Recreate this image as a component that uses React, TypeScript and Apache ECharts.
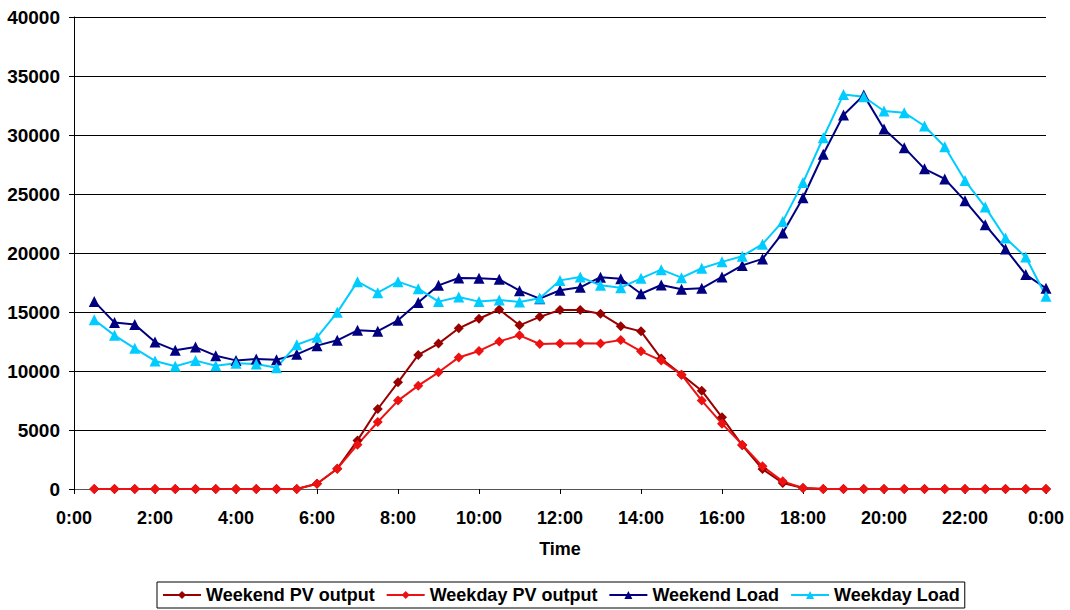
import React, { useEffect, useRef } from "react";
import * as echarts from "echarts";

const hours: number[] = Array.from({ length: 48 }, (_, i) => (i + 1) * 0.5);

const weekendPV = [
  0, 0, 0, 0, 0, 0, 0, 0, 0, 0, 0,
  450, 1720, 4120, 6780, 9040, 11360, 12320, 13620, 14430, 15210, 13870, 14590, 15170, 15170,
  14860, 13800, 13360, 11050, 9690, 8330, 6070, 3700, 1690, 510, 80,
  0, 0, 0, 0, 0, 0, 0, 0, 0, 0, 0, 0,
];
const weekdayPV = [
  0, 0, 0, 0, 0, 0, 0, 0, 0, 0, 0,
  450, 1720, 3760, 5680, 7490, 8760, 9890, 11150, 11700, 12510, 13020, 12290, 12340, 12350,
  12340, 12630, 11670, 10880, 9690, 7490, 5540, 3760, 1920, 650, 80,
  0, 0, 0, 0, 0, 0, 0, 0, 0, 0, 0, 0,
];
const weekendLoad = [
  15900, 14100, 13950, 12450, 11750, 12030, 11300, 10900, 11020, 10960, 11410, 12150,
  12600, 13450, 13370, 14300, 15800, 17260, 17880, 17850, 17770, 16810, 16130, 16840,
  17090, 17950, 17820, 16550, 17290, 16920, 17010, 17970, 18950, 19500, 21700, 24680,
  28370, 31690, 33380, 30510, 28930, 27130, 26280, 24420, 22390, 20340, 18170, 17010,
];
const weekdayLoad = [
  14350, 13020, 11920, 10850, 10400, 10880, 10450, 10650, 10600, 10280, 12230, 12850,
  14970, 17570, 16640, 17570, 16980, 15880, 16270, 15880, 16020, 15850, 16160, 17680,
  17970, 17260, 17060, 17850, 18590, 17910, 18710, 19250, 19730, 20750, 22680, 25970,
  29770, 33440, 33240, 32030, 31890, 30760, 29010, 26140, 23890, 21270, 19660, 16340,
];

const seriesNames = ["Weekend PV output", "Weekday PV output", "Weekend Load", "Weekday Load"];
const xAxisTitle = "Time";

const FONT = "Arial, 'Liberation Sans', Helvetica, sans-serif";

export default function App() {
  const ref = useRef<HTMLDivElement>(null);
  useEffect(() => {
    document.body.style.margin = "0";
    if (!ref.current) return;
    const chart = echarts.init(ref.current, undefined, { renderer: "svg" });
    const pair = (vals: number[]) => hours.map((h, i) => [h, vals[i]]);
    const mk = (name: string, vals: number[], color: string, symbol: string, size: number) => ({
      name,
      type: "line",
      data: pair(vals),
      symbol,
      symbolSize: size,
      showSymbol: true,
      lineStyle: { color, width: 2 },
      itemStyle: { color },
      emphasis: { disabled: true },
    });
    chart.setOption({
      animation: false,
      backgroundColor: "#ffffff",
      textStyle: { fontFamily: FONT },
      grid: { left: 74, right: 24, top: 17, bottom: 121, containLabel: false },
      xAxis: {
        type: "value",
        min: 0,
        max: 24,
        interval: 2,
        name: xAxisTitle,
        nameLocation: "middle",
        nameGap: 51,
        nameTextStyle: { fontSize: 18, fontWeight: "bold", color: "#000", fontFamily: FONT },
        axisLine: { show: true, lineStyle: { color: "#555", width: 1 } },
        axisTick: { show: true, inside: false, length: 5, lineStyle: { color: "#000" } },
        axisLabel: {
          fontSize: 18,
          fontWeight: "bold",
          color: "#000",
          margin: 20,
          fontFamily: FONT,
          formatter: (v: number) => `${v % 24}:00`,
        },
        splitLine: { show: false },
      },
      yAxis: {
        type: "value",
        min: 0,
        max: 40000,
        interval: 5000,
        axisLine: { show: true, lineStyle: { color: "#000", width: 1 } },
        axisTick: { show: true, inside: false, length: 5, lineStyle: { color: "#000" } },
        axisLabel: {
          fontSize: 19,
          fontWeight: "bold",
          color: "#000",
          margin: 14,
          fontFamily: FONT,
          formatter: (v: number) => String(v),
        },
        splitLine: { show: true, lineStyle: { color: "#000", width: 1 } },
      },
      legend: {
        bottom: 2,
        left: 157,
        orient: "horizontal",
        borderColor: "#000",
        borderWidth: 1,
        padding: [4, 5, 4, 5],
        itemGap: 11,
        itemWidth: 38,
        itemHeight: 10,
        textStyle: { fontSize: 18, fontWeight: "bold", color: "#000", fontFamily: FONT },
        data: seriesNames,
      },
      series: [
        mk(seriesNames[0], weekendPV, "#990000", "diamond", 10),
        mk(seriesNames[1], weekdayPV, "#ee1111", "diamond", 10),
        mk(seriesNames[2], weekendLoad, "#000080", "triangle", 11),
        mk(seriesNames[3], weekdayLoad, "#00ccff", "triangle", 11),
      ],
    });
    return () => chart.dispose();
  }, []);
  return <div ref={ref} style={{ width: 1070, height: 610 }} />;
}
